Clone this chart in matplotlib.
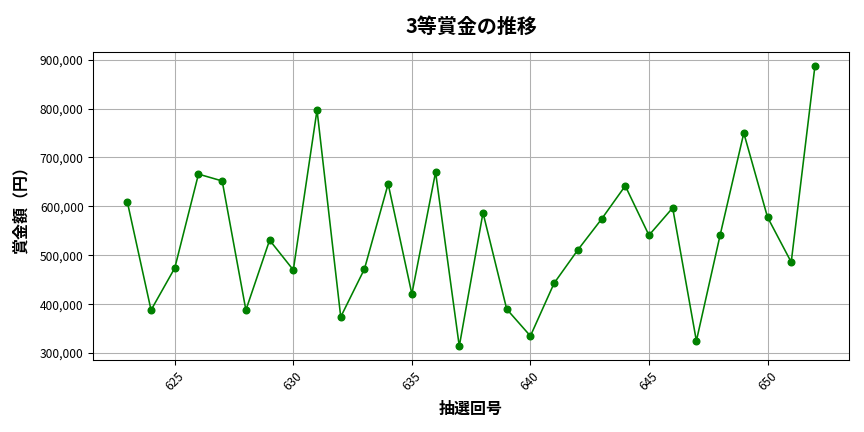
import matplotlib
matplotlib.use("Agg")
import matplotlib.pyplot as plt
from matplotlib.ticker import FuncFormatter

plt.rcParams['font.family'] = ['Noto Sans CJK JP', 'DejaVu Sans']

# 抽選回号 and 3等賞金
draws = list(range(623, 653))
prize = [609000, 388000, 474000, 666000, 652000, 388000, 531000, 470000,
         797000, 374000, 472000, 646000, 421000, 670000, 314000, 587000,
         390000, 335000, 443000, 511000, 574000, 642000, 541000, 597000,
         325000, 541000, 750000, 578000, 486000, 887000]

fig, ax = plt.subplots(figsize=(9, 4.5), dpi=96)
fig.subplots_adjust(left=0.1076, right=0.983, top=0.8796, bottom=0.166)
ax.plot(draws, prize, marker='o', color='green', markersize=5, linewidth=1.2)

ax.set_title("3等賞金の推移", fontsize=15, fontweight='bold', pad=14)
ax.set_xlabel("抽選回号", fontsize=12, fontweight='bold', labelpad=6)
ax.set_ylabel("賞金額（円）", fontsize=12, fontweight='bold', labelpad=8)
ax.yaxis.set_major_formatter(FuncFormatter(lambda v, p: f"{int(v):,}"))
ax.tick_params(axis='both', labelsize=9)
ax.tick_params(axis='x', labelrotation=45)
ax.grid(True, color='#b0b0b0', linewidth=0.8)

plt.savefig("out.png")
